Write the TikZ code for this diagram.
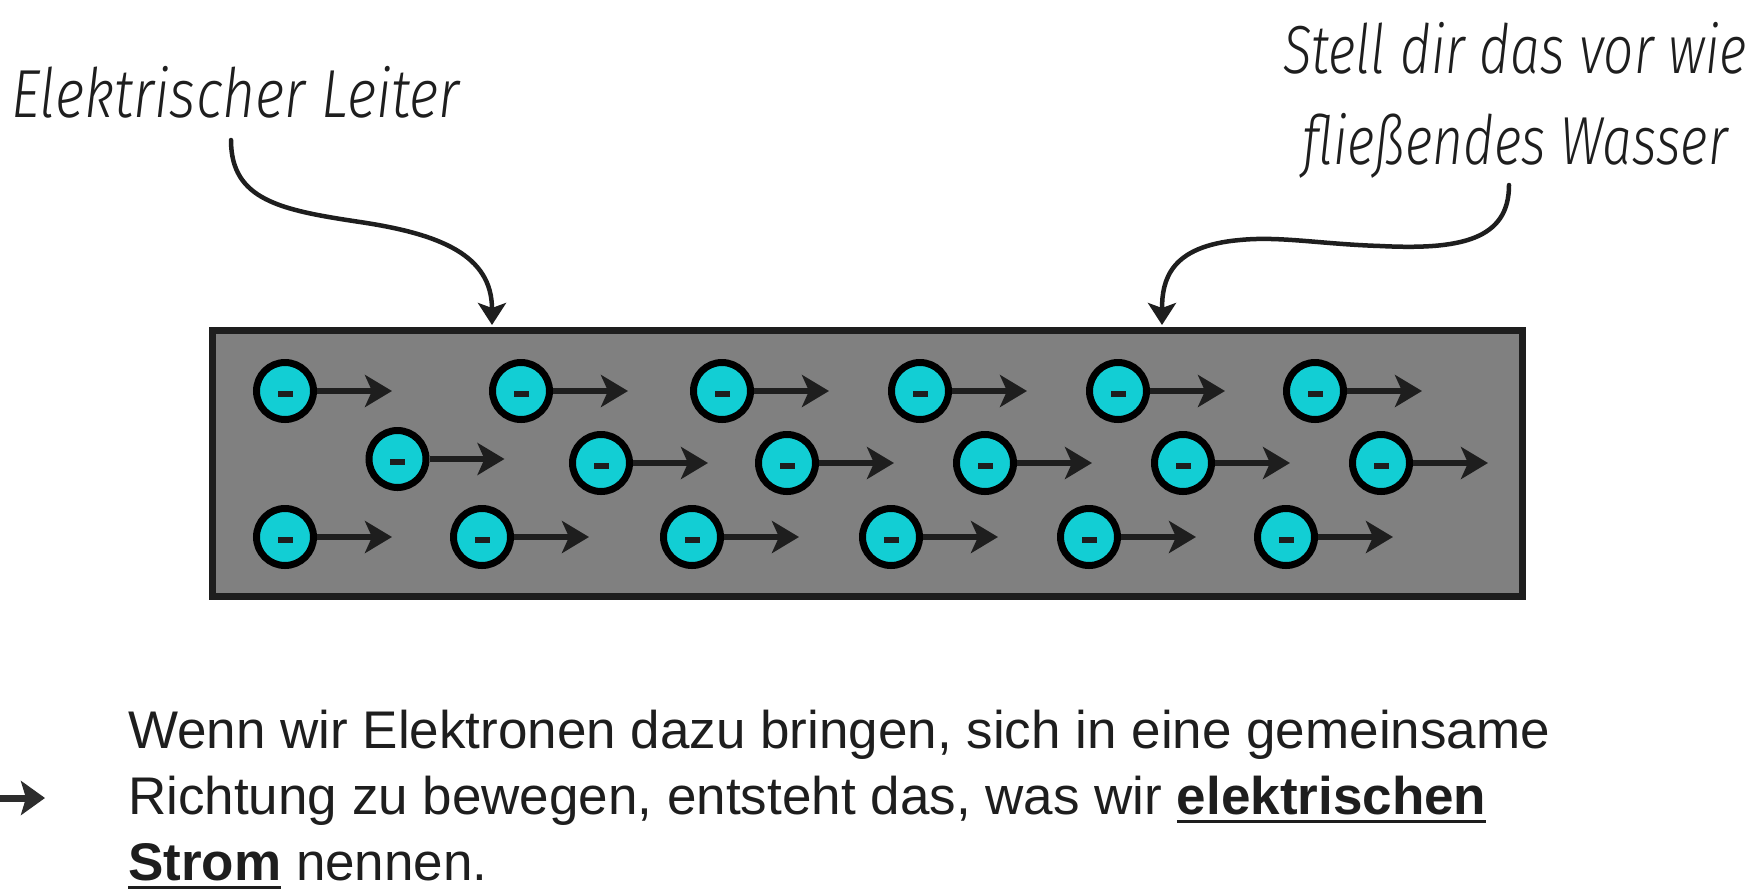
\documentclass[tikz,border=0pt]{standalone}
\usepackage{fontspec}
\setmainfont{Liberation Sans}
\newfontfamily\hand[FakeStretch=0.835,ItalicFont={Fira Sans Light Italic}]{Fira Sans}
\newfontfamily\handr[FakeStretch=0.78,ItalicFont={Fira Sans Light Italic}]{Fira Sans}
\usetikzlibrary{arrows.meta,calc}
\definecolor{ink}{RGB}{30,30,30}
\definecolor{elec}{RGB}{18,206,212}
\definecolor{wiregray}{RGB}{128,128,128}
\definecolor{bulletgray}{RGB}{45,45,45}
\newsavebox\ulbox
\newcommand\ulword[1]{\sbox\ulbox{#1}\rlap{\color{ink}\rule[-9pt]{\wd\ulbox}{3pt}}\usebox\ulbox}
\begin{document}
\begin{tikzpicture}[x=1pt,y=-1pt,
  electron/.style={circle,draw=black,fill=elec,line width=7pt,minimum size=57pt,inner sep=0pt,
    path picture={\fill[ink] ([shift={(-7.5,0.4)}]path picture bounding box.center) rectangle ++(15,5.3);}},
  flow/.style={draw=ink,line width=5.5pt,-{Stealth[length=27pt,width=32pt,inset=7pt]}},
  pointer/.style={draw=ink,line width=4.5pt,line cap=round,-{Stealth[length=22pt,width=28pt,inset=5pt]}},
  bulletarrow/.style={draw=bulletgray,line width=7pt,-{Stealth[length=24pt,width=34pt,inset=5pt]}},
  wirebox/.style={rectangle,draw=ink,fill=wiregray,line width=7pt,inner sep=0pt},
  handtext/.style={inner sep=0pt,text=ink,font={\hand\itshape\fontsize{68}{91}\selectfont}},
  handtextr/.style={inner sep=0pt,text=ink,font={\handr\itshape\fontsize{68}{91}\selectfont}},
  bodytext/.style={inner sep=0pt,text=ink,font={\fontsize{53}{66}\selectfont}}
]
\fill[white] (0,0) rectangle (1751,892);
\useasboundingbox (0,0) rectangle (1751,892);

% conductor
\node[wirebox,minimum width=1310pt,minimum height=266pt] (wire) at (867,463) {};

% electrons
\foreach \x/\y [count=\i] in {285/391,521/391,722/391,920/391,1118/391,1315/391,
  397.5/459,601/463,787/463,985/463,1183/463,1381/463,
  285/537,482/537,692/537,891/537,1089/537,1286/537}{
  \node[electron] (e\i) at (\x,\y) {};
  \coordinate (t\i) at (\x+107,\y);
  \draw[flow] (e\i) -- (t\i);
}

% labels
\node[handtext,anchor=base west] (lab1) at (11,117) {Elektrischer Leiter};
\node[handtextr,anchor=base,align=center] (lab2) at (1515,164) {Stell dir das vor wie\\flie\ss endes Wasser};

\coordinate (l0) at (231,140);
\coordinate (l1) at (492,325);
\draw[pointer] (l0) .. controls (231,200) and (280,210) .. (360,222)
  .. controls (440,234) and (492,255) .. (l1);

\coordinate (r0) at (1509,185);
\coordinate (r1) at (1162,325);
\draw[pointer] (r0) .. controls (1509,240) and (1460,250) .. (1380,246)
  .. controls (1320,244) and (1280,236) .. (1240,240)
  .. controls (1170,246) and (1162,280) .. (r1);

% bottom text
\coordinate (b0) at (-5,798);
\coordinate (b1) at (45,798);
\draw[bulletarrow] (b0) -- (b1);
\node[bodytext,anchor=base west,align=left] (body) at (128,880)
  {Wenn wir Elektronen dazu bringen, sich in eine gemeinsame\\
   Richtung zu bewegen, entsteht das, was wir \ulword{\textbf{elektrischen}}\\
   \ulword{\textbf{Strom}} nennen.};
\end{tikzpicture}
\end{document}
